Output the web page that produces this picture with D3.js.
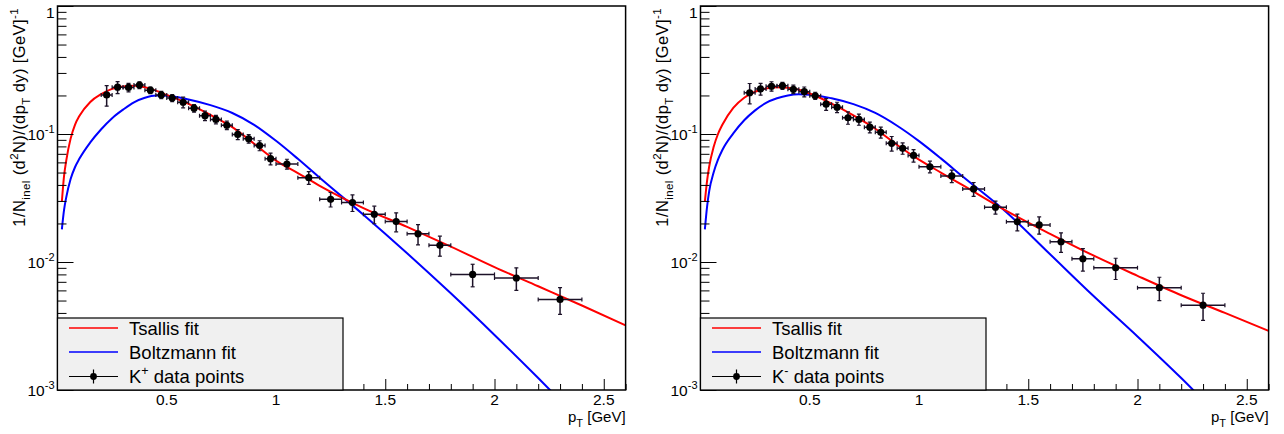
<!DOCTYPE html>
<html>
<head>
<meta charset="utf-8">
<script src="https://cdn.jsdelivr.net/npm/d3@7"></script>
<style>
  html, body { margin: 0; padding: 0; background: #ffffff; }
  svg { display: block; font-family: "Liberation Sans", Arial, Helvetica, sans-serif; }
</style>
</head>
<body>
<svg id="chart" width="1284" height="434"></svg>
<script>
// ---- measured spectra: bin centres and half widths (GeV) ----
const binCentres = [0.225, 0.275, 0.325, 0.375, 0.425, 0.475, 0.525, 0.575, 0.625, 0.675,
                    0.725, 0.775, 0.825, 0.875, 0.925, 0.975, 1.05, 1.15, 1.25, 1.35,
                    1.45, 1.55, 1.65, 1.75, 1.9, 2.1, 2.3];
const binHalfWidths = [0.025, 0.025, 0.025, 0.025, 0.025, 0.025, 0.025, 0.025, 0.025, 0.025,
                       0.025, 0.025, 0.025, 0.025, 0.025, 0.025, 0.05, 0.05, 0.05, 0.05,
                       0.05, 0.05, 0.05, 0.05, 0.1, 0.1, 0.1];

// K+ yields and errors
const kPlusYield = [0.202, 0.232, 0.231, 0.241, 0.220, 0.202, 0.191, 0.177, 0.159, 0.139,
                    0.130, 0.117, 0.0992, 0.0918, 0.0813, 0.0641, 0.0583, 0.0456, 0.0309, 0.0291,
                    0.0236, 0.0207, 0.0166, 0.0135, 0.0080, 0.0075, 0.0051];
const kPlusYieldErr = [0.037, 0.025, 0.018, 0.015, 0.013, 0.013, 0.012, 0.017, 0.011, 0.012,
                       0.010, 0.009, 0.0088, 0.007, 0.0073, 0.0068, 0.0052, 0.0052, 0.0040, 0.0043,
                       0.0037, 0.0035, 0.0030, 0.0024, 0.0016, 0.0015, 0.0012];

// K- yields and errors
const kMinusYield = [0.210, 0.225, 0.236, 0.238, 0.2235, 0.214, 0.199, 0.171, 0.162, 0.134,
                     0.130, 0.113, 0.103, 0.0846, 0.0773, 0.068, 0.0555, 0.047, 0.0372, 0.0268,
                     0.0206, 0.0195, 0.0144, 0.0106, 0.0090, 0.0063, 0.0046];
const kMinusYieldErr = [0.038, 0.024, 0.020, 0.015, 0.017, 0.019, 0.013, 0.018, 0.015, 0.0148,
                        0.013, 0.011, 0.010, 0.011, 0.0078, 0.0076, 0.0058, 0.0053, 0.0046, 0.0031,
                        0.0031, 0.0030, 0.0025, 0.0021, 0.0017, 0.0013, 0.0011];

// ---- fitted curves, tabulated on a pT grid (GeV) ----
const fitPt = [0.02, 0.03, 0.04, 0.06, 0.08, 0.1, 0.15, 0.2, 0.25, 0.3, 0.35, 0.4, 0.45, 0.5,
               0.6, 0.7, 0.8, 0.9, 1.0, 1.1, 1.2, 1.4, 1.6, 1.8, 2.0, 2.2, 2.4, 2.6];
const kPlusTsallis = [0.0296, 0.047, 0.062, 0.092, 0.118, 0.138, 0.178, 0.205, 0.225, 0.235, 0.238, 0.232, 0.218, 0.202,
                      0.172, 0.141, 0.113, 0.084, 0.062, 0.0495, 0.0394, 0.0264, 0.0188, 0.0132, 0.00912, 0.00646, 0.00457, 0.0032];
const kPlusBoltzmann = [0.018, 0.0255, 0.032, 0.0445, 0.055, 0.064, 0.086, 0.109, 0.133, 0.155, 0.177, 0.192, 0.200, 0.199,
                        0.186, 0.168, 0.146, 0.118, 0.0885, 0.064, 0.0455, 0.0234, 0.0117, 0.00569, 0.00269, 0.00124, 0.00056, 0.00025];
const kMinusTsallis = [0.0296, 0.043, 0.056, 0.079, 0.100, 0.118, 0.160, 0.192, 0.214, 0.227, 0.232, 0.230, 0.222, 0.207,
                       0.173, 0.140, 0.110, 0.082, 0.063, 0.050, 0.0398, 0.0251, 0.0166, 0.0112, 0.0078, 0.0055, 0.0040, 0.0029];
const kMinusBoltzmann = [0.018, 0.027, 0.036, 0.050, 0.063, 0.075, 0.101, 0.128, 0.153, 0.175, 0.190, 0.200, 0.204, 0.203,
                         0.190, 0.171, 0.146, 0.116, 0.088, 0.0645, 0.0465, 0.0245, 0.0115, 0.0054, 0.00262, 0.00124, 0.00056, 0.00025];

// ---- axis ticks and labels ----
const xTickValues = [0.5, 1, 1.5, 2, 2.5];
const xTickLabels = ["0.5", "1", "1.5", "2", "2.5"];
const yTickValues = [1, 0.1, 0.01, 0.001];
const yTickBases = ["1", "10", "10", "10"];
const yTickExponents = ["", "-1", "-2", "-3"];
const legendLabels = ["Tsallis fit", "Boltzmann fit", "data points"];
const particleCharges = ["+", "-"];

const svg = d3.select("#chart");
const FRAME_W = 568.1;
const TOP = 6, BOTTOM = 390;

function drawPanel(idx, x0, yields, yieldErrs, tsallis, boltzmann, charge) {
  const g = svg.append("g");
  const left = x0, right = x0 + FRAME_W;
  const x = d3.scaleLinear().domain([0, 2.6]).range([left, right]);
  const y = d3.scaleLog().domain([1e-3, 1]).range([BOTTOM, TOP]);

  const clipId = "plotClip" + idx;
  svg.append("clipPath").attr("id", clipId)
    .append("rect").attr("x", left).attr("y", TOP).attr("width", FRAME_W).attr("height", BOTTOM - TOP);

  // fit curves
  const line = d3.line().x(d => x(d[0])).y(d => y(d[1])).curve(d3.curveMonotoneX);
  const curves = g.append("g").attr("clip-path", `url(#${clipId})`);
  curves.append("path").datum(d3.zip(fitPt, boltzmann)).attr("d", line)
    .attr("fill", "none").attr("stroke", "#0000ff").attr("stroke-width", 2);
  curves.append("path").datum(d3.zip(fitPt, tsallis)).attr("d", line)
    .attr("fill", "none").attr("stroke", "#ff0000").attr("stroke-width", 2);

  // data points with error bars
  const pts = binCentres.map((c, i) => ({ c, hw: binHalfWidths[i], v: yields[i], e: yieldErrs[i] }));
  const barColor = "#1c1228";
  const pg = g.append("g").attr("clip-path", `url(#${clipId})`);
  const p = pg.selectAll("g.pt").data(pts).join("g").attr("class", "pt");
  p.append("line").attr("x1", d => x(d.c - d.hw)).attr("x2", d => x(d.c + d.hw))
    .attr("y1", d => y(d.v)).attr("y2", d => y(d.v)).attr("stroke", barColor).attr("stroke-width", 1.5);
  p.append("line").attr("x1", d => x(d.c)).attr("x2", d => x(d.c))
    .attr("y1", d => y(d.v + d.e)).attr("y2", d => y(d.v - d.e)).attr("stroke", barColor).attr("stroke-width", 1.5);
  // end caps
  p.append("line").attr("x1", d => x(d.c - d.hw)).attr("x2", d => x(d.c - d.hw))
    .attr("y1", d => y(d.v) - 2).attr("y2", d => y(d.v) + 2).attr("stroke", barColor).attr("stroke-width", 1.2);
  p.append("line").attr("x1", d => x(d.c + d.hw)).attr("x2", d => x(d.c + d.hw))
    .attr("y1", d => y(d.v) - 2).attr("y2", d => y(d.v) + 2).attr("stroke", barColor).attr("stroke-width", 1.2);
  p.append("line").attr("x1", d => x(d.c) - 2).attr("x2", d => x(d.c) + 2)
    .attr("y1", d => y(d.v + d.e)).attr("y2", d => y(d.v + d.e)).attr("stroke", barColor).attr("stroke-width", 1.2);
  p.append("line").attr("x1", d => x(d.c) - 2).attr("x2", d => x(d.c) + 2)
    .attr("y1", d => y(d.v - d.e)).attr("y2", d => y(d.v - d.e)).attr("stroke", barColor).attr("stroke-width", 1.2);
  p.append("circle").attr("cx", d => x(d.c)).attr("cy", d => y(d.v)).attr("r", 3.6).attr("fill", "#000");

  // y ticks (inside the frame)
  const yMinor = [];
  [0.001, 0.01, 0.1].forEach(dec => { for (let k = 2; k <= 9; k++) yMinor.push(k * dec); });
  const yAxisMinor = g.append("g").attr("transform", `translate(${left},0)`)
    .call(d3.axisRight(y).tickValues(yMinor).tickSize(9).tickFormat(""));
  const yAxisMajor = g.append("g").attr("transform", `translate(${left},0)`)
    .call(d3.axisRight(y).tickValues(yTickValues).tickSize(16).tickFormat(""));

  // x ticks (inside the frame, along the bottom)
  const xMinor = d3.range(1, 27).map(k => k / 10).filter(v => Math.abs(v * 2 - Math.round(v * 2)) > 1e-6);
  const xAxisMinor = g.append("g").attr("transform", `translate(0,${BOTTOM})`)
    .call(d3.axisTop(x).tickValues(xMinor).tickSize(6).tickFormat(""));
  const xAxisMajor = g.append("g").attr("transform", `translate(0,${BOTTOM})`)
    .call(d3.axisTop(x).tickValues(xTickValues).tickSize(11).tickFormat(""));
  [yAxisMinor, yAxisMajor, xAxisMinor, xAxisMajor].forEach(a => {
    a.select(".domain").remove();
    a.selectAll("line").attr("stroke", "#000").attr("stroke-width", 1);
  });

  // x tick labels
  g.selectAll("text.xl").data(xTickValues).join("text").attr("class", "xl")
    .attr("x", d => x(d)).attr("y", 405).attr("text-anchor", "middle")
    .attr("font-size", 15.5).attr("fill", "#000")
    .text((d, i) => xTickLabels[i]);

  // y tick labels with exponents
  yTickValues.forEach((v, i) => {
    const base = i === 0 ? y(v) + 12 : y(v) + 5.5;
    const t = g.append("text").attr("x", left - 3).attr("y", base)
      .attr("text-anchor", "end").attr("font-size", 15.5).attr("fill", "#000");
    t.append("tspan").text(yTickBases[i]);
    if (yTickExponents[i]) t.append("tspan").attr("font-size", 11).attr("dy", -7).text(yTickExponents[i]);
  });

  // frame
  g.append("rect").attr("x", left).attr("y", TOP).attr("width", FRAME_W).attr("height", BOTTOM - TOP)
    .attr("fill", "none").attr("stroke", "#000").attr("stroke-width", 1.5);

  // x axis title
  const xt = g.append("text").attr("x", right).attr("y", 422).attr("text-anchor", "end")
    .attr("font-size", 15).attr("fill", "#000");
  xt.append("tspan").text("p");
  xt.append("tspan").attr("font-size", 11).attr("dy", 5).text("T");
  xt.append("tspan").attr("dy", -5).text(" [GeV]");

  // y axis title
  const yt = g.append("text").attr("transform", `translate(${left - 33},8) rotate(-90)`)
    .attr("text-anchor", "end").attr("font-size", 16.5).attr("letter-spacing", 0.4).attr("fill", "#000");
  yt.append("tspan").text("1/N");
  yt.append("tspan").attr("font-size", 11.5).attr("dy", 5).text("inel");
  yt.append("tspan").attr("dy", -5).text(" (d");
  yt.append("tspan").attr("font-size", 11.5).attr("dy", -7).text("2");
  yt.append("tspan").attr("dy", 7).text("N)/(dp");
  yt.append("tspan").attr("font-size", 11.5).attr("dy", 5).text("T");
  yt.append("tspan").attr("dy", -5).text(" dy) [GeV]");
  yt.append("tspan").attr("font-size", 11.5).attr("dy", -7).text("-1");

  // legend
  const lg = g.append("g");
  const lx = left, ly = 318, lw = 285.5, lh = BOTTOM - 318;
  lg.append("rect").attr("x", lx).attr("y", ly).attr("width", lw).attr("height", lh)
    .attr("fill", "#f0f0f0").attr("stroke", "#000").attr("stroke-width", 1.2);
  const rows = [328, 352, 376.5];
  const sx1 = left + 11.5, sx2 = left + 60.5, tx = left + 71.5;
  lg.append("line").attr("x1", sx1).attr("x2", sx2).attr("y1", rows[0]).attr("y2", rows[0])
    .attr("stroke", "#ff0000").attr("stroke-width", 1.5);
  lg.append("line").attr("x1", sx1).attr("x2", sx2).attr("y1", rows[1]).attr("y2", rows[1])
    .attr("stroke", "#0000ff").attr("stroke-width", 1.5);
  lg.append("line").attr("x1", sx1).attr("x2", sx2).attr("y1", rows[2]).attr("y2", rows[2])
    .attr("stroke", "#000").attr("stroke-width", 1.2);
  lg.append("line").attr("x1", (sx1 + sx2) / 2).attr("x2", (sx1 + sx2) / 2)
    .attr("y1", rows[2] - 7).attr("y2", rows[2] + 7).attr("stroke", "#000").attr("stroke-width", 1.2);
  lg.append("circle").attr("cx", (sx1 + sx2) / 2).attr("cy", rows[2]).attr("r", 3.4).attr("fill", "#000");

  lg.append("text").attr("x", tx).attr("y", rows[0] + 6.5).attr("font-size", 18.5).attr("fill", "#000").text(legendLabels[0]);
  lg.append("text").attr("x", tx).attr("y", rows[1] + 6.5).attr("font-size", 18.5).attr("fill", "#000").text(legendLabels[1]);
  const lt = lg.append("text").attr("x", tx).attr("y", rows[2] + 6.5).attr("font-size", 18.5).attr("fill", "#000");
  lt.append("tspan").text("K");
  lt.append("tspan").attr("font-size", 12.5).attr("dy", -8).text(charge);
  lt.append("tspan").attr("dy", 8).text(" " + legendLabels[2]);
}

drawPanel(0, 57.5, kPlusYield, kPlusYieldErr, kPlusTsallis, kPlusBoltzmann, particleCharges[0]);
drawPanel(1, 700.5, kMinusYield, kMinusYieldErr, kMinusTsallis, kMinusBoltzmann, particleCharges[1]);
</script>
</body>
</html>
